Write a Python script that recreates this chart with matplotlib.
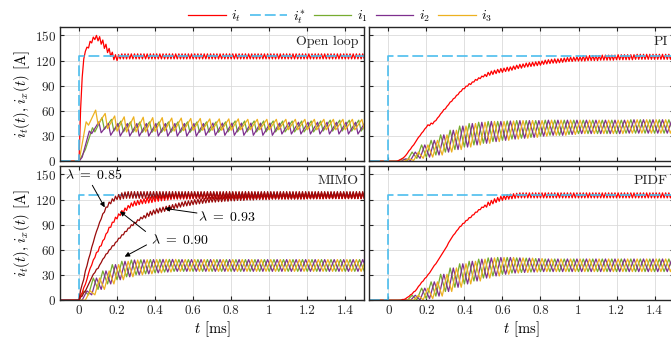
import numpy as np
import matplotlib
matplotlib.use("Agg")
import matplotlib.pyplot as plt
from matplotlib.lines import Line2D

plt.rcParams["font.family"] = "serif"
plt.rcParams["font.serif"] = ["cmr10", "DejaVu Serif"]
plt.rcParams["mathtext.fontset"] = "cm"
plt.rcParams["axes.formatter.use_mathtext"] = True
plt.rcParams["axes.unicode_minus"] = False

# switching period of one phase and ripple period of the total current [ms]
T_SW = 0.05
T_RIP = T_SW / 3

# reference current i_t^*
REF_T = [-0.1, 0.0, 0.0, 1.6]
REF_I = [0, 0, 125, 125]

# total current i_t: mean and ripple half-amplitude per ripple cycle
OL_IT_MEAN = [31, 111, 133.5, 139, 144.5, 147.5, 146, 142, 137, 132, 127.5, 124, 123.5] + [125] * 90
OL_IT_AMP = [31, 11, 2.5, 4, 3.5, 2.5, 2.5, 2.5, 2.5, 2.5, 2.5, 3, 3.5] + [3] * 90

PI_IT_MEAN = [0, 0, 0, 1, 3, 6, 11, 16, 21, 27, 32, 37, 42, 44, 46, 50, 55, 60, 64, 69,
              73, 77, 81, 85, 88, 91, 93, 96, 98, 100, 102, 103.5, 105, 106, 107, 108, 108.5,
              109.5, 110, 111, 112, 113, 113.5, 114.5, 115, 115.5, 116, 116.5, 117, 118,
              118.5, 119, 119.5, 119.5, 120, 120.5, 121, 121.5, 121.5, 122, 122, 122.5,
              122.5, 123, 123, 123, 123, 123.5, 123.5, 123.5, 123.5, 123.5, 124, 124, 124,
              124, 124, 124] + [124.5] * 30
PI_IT_AMP = [0, 0, 0, 0.5, 0.5, 1] + [1.5] * 25 + [2.5] * 30 + [3] * 50

PIDF_IT_MEAN = [0, 0, 0, 0, 0.5, 1.5, 4, 7, 10.5, 15, 20, 24.5, 29, 34, 40, 45, 51, 57, 63,
                70, 76, 81, 86, 90, 93.5, 97, 100, 103.5, 106.5, 109.5, 112, 114, 116, 118,
                119.5, 121, 122, 123, 123.5, 124, 124.5] + [125] * 70
PIDF_IT_AMP = [0, 0, 0, 0, 0.5, 0.5, 0.5, 0.5, 0.5] + [1.5] * 22 + [3] * 80

M85_IT_MEAN = [6, 22, 38, 52, 66, 79, 90, 100, 108, 114, 118, 121, 123, 124, 125] + [125.5] * 90
M85_IT_AMP = [6] + [3] * 12 + [4] * 95
M90_IT_MEAN = [3, 12, 22, 35, 45, 54, 61, 68, 76, 84, 90, 96, 100, 104, 107, 110, 113, 115,
               116, 117, 118, 119, 119.5, 120, 121, 121.5, 122, 122.5, 123, 123.5, 124, 124,
               124, 124, 124, 124] + [124.5] * 70
M90_IT_AMP = [3] * 21 + [3.5] * 90
M93_IT_MEAN = [2, 7, 13, 21, 29, 35, 40, 47, 53, 58, 63, 67, 72, 76, 80, 84, 88, 91, 94, 97,
               99, 101, 103, 104.5, 106, 107, 108, 109, 110, 111, 112, 113, 114, 115, 115.5,
               116, 117, 117.5, 118, 118.5, 119, 119.5, 120, 120, 120.5, 120.5, 121, 121,
               121.5, 121.5, 122, 122, 122, 122.5, 122.5, 122.5, 123, 123, 123, 123, 123] \
              + [123.5] * 11 + [124] * 6 + [124.5] * 30
M93_IT_AMP = [2] * 21 + [3] * 90

# open loop phase currents: trough / peak per switching cycle
OL_I1_LO = [14, 35, 38, 36, 35] + [34.5] * 10 + [35] * 10 + [36] * 10
OL_I1_HI = [40, 52, 50, 48, 47] + [47] * 10 + [48] * 10 + [49] * 10
OL_I2_LO = [5, 33, 34, 31, 30] + [30] * 8 + [31] * 8 + [32.5] * 15
OL_I2_HI = [36, 47, 45, 45, 45] + [45] * 8 + [45.5] * 8 + [46.5] * 15
OL_I3_LO = [0, 43, 44, 39, 36, 35, 35, 35, 35.5, 36, 36, 36.5, 37] + [37] * 4 + [37.5] * 20
OL_I3_HI = [47, 61, 57, 54, 53, 53, 52.5, 52, 52, 51.5, 51.5, 51, 51] + [50.5] * 4 + [50] * 20

# closed loop phase currents: mean and half-amplitude per switching cycle
PI_PH_MEAN = [0, 1.5, 6, 11.5, 15, 19.5, 24, 28, 31, 33, 34.5, 35.5, 36.5, 37.5, 38, 38.5,
              39.5, 40, 40, 40.5] + [41] * 5 + [41.5] * 12
PI_PH_AMP = [0, 1.5, 5, 8, 10, 12, 13, 14, 14, 13.5, 13, 12, 11.5, 11, 10.5, 10, 9.5, 9, 9,
             8.5] + [8] * 17
PIDF_PH_MEAN = [0, 0.3, 3, 7.5, 12, 18, 24.5, 29.5, 33, 36, 38.5, 40, 41, 41.5] + [41.7] * 22
PIDF_PH_AMP = [0, 0.3, 3, 7, 10, 13, 14, 14, 13.5, 13, 12, 11, 10, 9, 8.5, 8] + [7.5] * 20
MIMO_PH_MEAN = [5.7, 16.5, 24, 31, 35.5, 38, 39.3, 40, 40.7, 41.2] + [41.5] * 26
MIMO_PH_AMP = [5.5, 10, 11, 11.5, 11, 10, 9, 8.5, 8, 7.5] + [7] * 26

N_SW = 33
N_RIP = 97

C_IT = "#FF0000"
C_DARK = "#990A0A"
C_REF = "#4DBEEE"
C_I1 = "#77AC30"
C_I2 = "#7E2F8E"
C_I3 = "#EDB120"
LW = 0.9


def zigzag(t0, period, lo, hi, rise):
    lo = np.asarray(lo, dtype=float)
    hi = np.asarray(hi, dtype=float)
    t = t0 + period * np.arange(len(lo))
    tt = np.column_stack([t, t + rise * period]).ravel()
    vv = np.column_stack([lo, hi]).ravel()
    return np.r_[-0.1, 0.0, tt], np.r_[0.0, 0.0, vv]


def total_current(mean, amp):
    m = np.asarray(mean[:N_RIP], dtype=float)
    a = np.asarray(amp[:N_RIP], dtype=float)
    return zigzag(0.0, T_RIP, m - a, m + a, 0.5)


def phase_currents(ax, mean, amp):
    m = np.asarray(mean[:N_SW], dtype=float)
    a = np.asarray(amp[:N_SW], dtype=float)
    for k, c in enumerate([C_I1, C_I2, C_I3]):
        t, v = zigzag(k * T_SW / 3, T_SW, m - a, m + a, 0.5)
        ax.plot(t, v, color=c, lw=LW)


def draw_ref(ax):
    ax.plot(REF_T, REF_I, color=C_REF, lw=1.2, dashes=(6.5, 2.4))


fig = plt.figure(figsize=(6.71, 3.41), dpi=100)
W, H = 671, 341
axw, axh = 304.3 / W, 134.3 / H
ax_ol = fig.add_axes([60 / W, 1 - 161.3 / H, axw, axh])
ax_pi = fig.add_axes([369.3 / W, 1 - 161.3 / H, axw, axh])
ax_mimo = fig.add_axes([60 / W, 1 - 300.3 / H, axw, axh])
ax_pidf = fig.add_axes([369.3 / W, 1 - 300.3 / H, axw, axh])

# open loop
for lo, hi, off, c in [(OL_I1_LO, OL_I1_HI, 2 * T_SW / 3, C_I1),
                       (OL_I2_LO, OL_I2_HI, T_SW / 3, C_I2),
                       (OL_I3_LO, OL_I3_HI, 0.0, C_I3)]:
    n = min(len(lo), len(hi), N_SW)
    t, v = zigzag(off, T_SW, lo[:n], hi[:n], 0.75)
    ax_ol.plot(t, v, color=c, lw=LW)
t, v = total_current(OL_IT_MEAN, OL_IT_AMP)
ax_ol.plot(t, v, color=C_IT, lw=LW)
draw_ref(ax_ol)

# PI
phase_currents(ax_pi, PI_PH_MEAN, PI_PH_AMP)
t, v = total_current(PI_IT_MEAN, PI_IT_AMP)
ax_pi.plot(t, v, color=C_IT, lw=LW)
draw_ref(ax_pi)

# MIMO
phase_currents(ax_mimo, MIMO_PH_MEAN, MIMO_PH_AMP)
draw_ref(ax_mimo)
for mean, amp, c in [(M93_IT_MEAN, M93_IT_AMP, C_DARK),
                     (M90_IT_MEAN, M90_IT_AMP, C_IT),
                     (M85_IT_MEAN, M85_IT_AMP, C_DARK)]:
    t, v = total_current(mean, amp)
    ax_mimo.plot(t, v, color=c, lw=LW)

# PIDF
phase_currents(ax_pidf, PIDF_PH_MEAN, PIDF_PH_AMP)
t, v = total_current(PIDF_IT_MEAN, PIDF_IT_AMP)
ax_pidf.plot(t, v, color=C_IT, lw=LW)
draw_ref(ax_pidf)

titles = {ax_ol: "Open loop", ax_pi: "PI", ax_mimo: "MIMO", ax_pidf: "PIDF"}
for ax, title in titles.items():
    ax.set_xlim(-0.1, 1.5)
    ax.set_ylim(0, 160)
    ax.set_xticks([0, 0.2, 0.4, 0.6, 0.8, 1.0, 1.2, 1.4])
    ax.set_xticklabels(["0", "0.2", "0.4", "0.6", "0.8", "1", "1.2", "1.4"])
    ax.set_yticks([0, 30, 60, 90, 120, 150])
    ax.grid(True, color="#dadada", lw=0.6)
    ax.set_axisbelow(True)
    ax.tick_params(direction="in", length=3, width=0.8, top=True, right=True,
                   labelsize=9.5, colors="#262626", pad=3)
    for s in ax.spines.values():
        s.set_color("#262626")
        s.set_linewidth(1.0)
    ax.text(0.98, 0.885, title, transform=ax.transAxes, ha="right", va="center",
            fontsize=10, color="#262626")

for ax in (ax_ol, ax_pi):
    ax.tick_params(labelbottom=False)
for ax in (ax_pi, ax_pidf):
    ax.tick_params(labelleft=False)
for ax in (ax_ol, ax_mimo):
    ax.set_ylabel(r"$i_t(t),\, i_x(t)$ [A]", fontsize=10.5, labelpad=2)
for ax in (ax_mimo, ax_pidf):
    ax.set_xlabel(r"$t$ [ms]", fontsize=10.5, labelpad=2)

# lambda annotations
arrow = dict(arrowstyle="-|>", color="k", lw=0.7, mutation_scale=7, shrinkA=0, shrinkB=0)
lam_kw = dict(fontsize=10, ha="center", va="center")
ax_mimo.text(0.08, 149, r"$\lambda\ =\ \mathsf{0.85}$", **lam_kw)
ax_mimo.annotate("", xy=(0.135, 110.7), xytext=(0.07, 137), arrowprops=arrow)
ax_mimo.text(0.78, 99.7, r"$\lambda\ =\ \mathsf{0.93}$", **lam_kw)
ax_mimo.annotate("", xy=(0.451, 109.5), xytext=(0.62, 104), arrowprops=arrow)
ax_mimo.text(0.53, 72, r"$\lambda\ =\ \mathsf{0.90}$", **lam_kw)
ax_mimo.annotate("", xy=(0.215, 106), xytext=(0.35, 82), arrowprops=arrow)
ax_mimo.annotate("", xy=(0.24, 52), xytext=(0.355, 66), arrowprops=arrow)

handles = [Line2D([], [], color=C_IT, lw=LW),
           Line2D([], [], color=C_REF, lw=1.2, dashes=(6.5, 2.4)),
           Line2D([], [], color=C_I1, lw=LW),
           Line2D([], [], color=C_I2, lw=LW),
           Line2D([], [], color=C_I3, lw=LW)]
labels = [r"$i_t$", r"$i_t^{*}$", r"$i_1$", r"$i_2$", r"$i_3$"]
fig.legend(handles, labels, loc="center", bbox_to_anchor=(340.5 / W, 1 - 16.7 / H),
           ncol=5, frameon=False, fontsize=10, handlelength=2.7, handletextpad=0.4,
           columnspacing=0.6)

fig.savefig("out.png", dpi=100)
